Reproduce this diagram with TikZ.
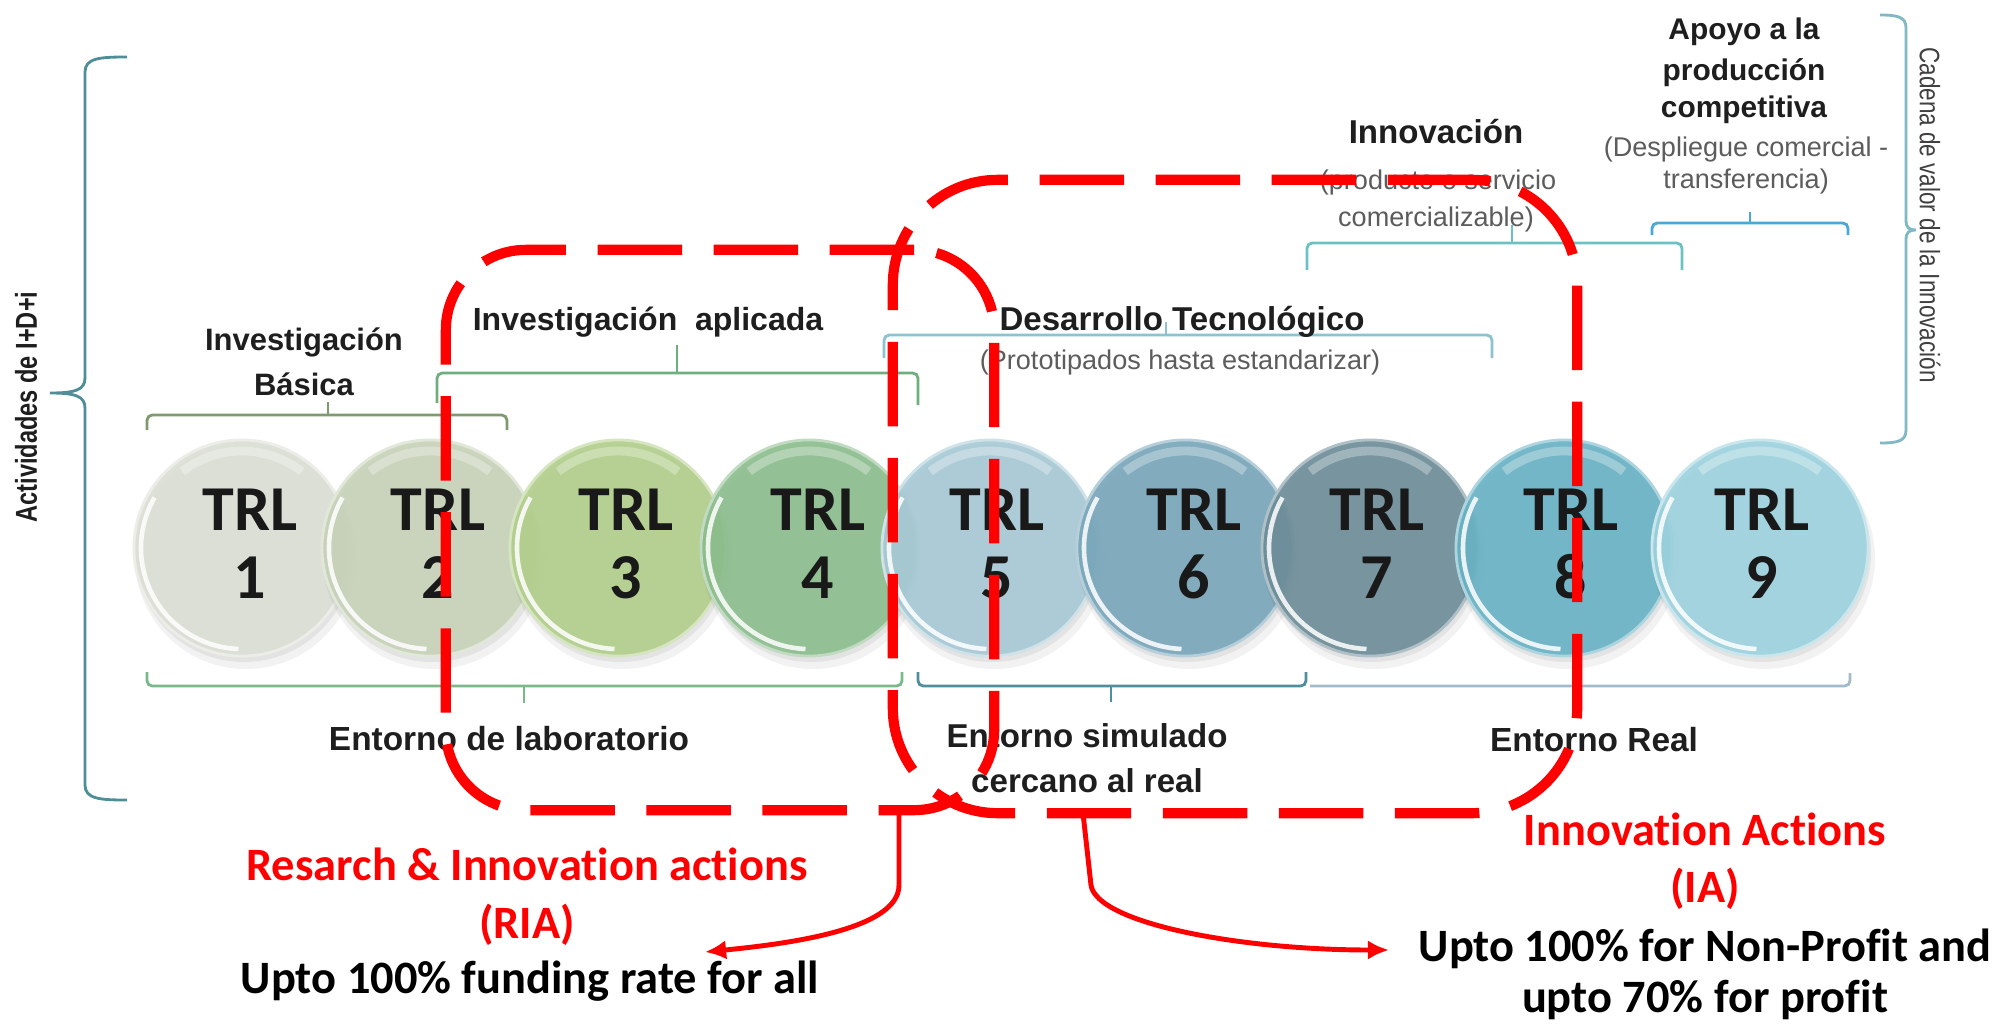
\documentclass[tikz,border=0pt]{standalone}
\usepackage{fontspec}
\setmainfont{Liberation Sans}
\newfontfamily\calibri[Ligatures=NoCommon]{Carlito}
\newfontfamily\narrowsans[FakeStretch=0.8]{Liberation Sans}
\newfontfamily\narrowbold[FakeStretch=0.78]{Liberation Sans}
\usetikzlibrary{arrows.meta}
\definecolor{c1}{HTML}{DCDFD5}
\definecolor{c2}{HTML}{C8D3BA}
\definecolor{c3}{HTML}{B2CF8C}
\definecolor{c4}{HTML}{8DBE8E}
\definecolor{c5}{HTML}{A8CAD6}
\definecolor{c6}{HTML}{7AA8BB}
\definecolor{c7}{HTML}{6E8E9A}
\definecolor{c8}{HTML}{6AB3C5}
\definecolor{c9}{HTML}{9DD2DE}
\definecolor{tdark}{HTML}{1E1E1E}
\definecolor{tgray}{HTML}{5C5C5C}
\definecolor{bBas}{HTML}{7E9A6E}
\definecolor{bApl}{HTML}{6FAF7F}
\definecolor{bDes}{HTML}{8CC3CF}
\definecolor{bInn}{HTML}{6BC1C3}
\definecolor{bApo}{HTML}{4AA8D4}
\definecolor{bLab}{HTML}{7AB88A}
\definecolor{bSim}{HTML}{4F8E9C}
\definecolor{bReal}{HTML}{A3BACB}
\definecolor{bBrace}{HTML}{4E8E99}
\definecolor{redc}{HTML}{FF0000}
\begin{document}
\begin{tikzpicture}[x=0.01cm,y=-0.01cm,
  hdr/.style={font=\bfseries\fontsize{#1}{#1}\selectfont, text=tdark, inner sep=0pt, anchor=base},
  subt/.style={font=\fontsize{#1}{#1}\selectfont, text=tgray, inner sep=0pt, anchor=base},
  rtxt/.style={font=\calibri\bfseries\fontsize{13.2pt}{15pt}\selectfont, text=redc, inner sep=0pt, anchor=base},
  btxt/.style={font=\calibri\bfseries\fontsize{13.2pt}{15pt}\selectfont, text=black, inner sep=0pt, anchor=base},
  trlc/.style={circle, minimum size=2.16cm, inner sep=0pt, fill opacity=0.92},
  trltxt/.style={font=\calibri\bfseries\fontsize{18.2pt}{19pt}\selectfont, text=black!90, inner sep=0pt, anchor=base},
  brk/.style={line width=0.8pt, rounded corners=1.5pt},
  brace/.style={line width=0.8pt, draw=bBrace},
  redbox/.style={draw=redc, line width=2.9pt, dash pattern=on 24pt off 9pt, rectangle, inner sep=0pt, outer sep=0pt},
  redarr/.style={draw=redc, line width=1.4pt, -{Latex[length=6pt,width=5.5pt]}}
]
\useasboundingbox (0,0) rectangle (2000,1024);
\fill[white] (0,0) rectangle (2000,1024);

% ---------- TRL circles ----------
\foreach \i/\cx/\tx/\col in {1/242/250/c1,2/430/438/c2,3/618/626/c3,4/809/818/c4,5/990/997/c5,6/1185/1194/c6,7/1370/1377/c7,8/1564/1571/c8,9/1760/1762/c9}{
  \fill[black, opacity=0.05] (\cx+4,558) circle (111);
  \fill[black, opacity=0.06] (\cx+2,553) circle (109);
  \node[trlc, fill=\col, draw=\col!55!white, line width=0.8pt] (c\i) at (\cx,548) {};
  \draw[white, opacity=0.85, line width=1.3pt] (\cx,548) ++(210:101) arc (210:92:101);
  \draw[white, opacity=0.3, line width=2.5pt] (\cx,548) ++(232:97) arc (232:308:97);
  \node[trltxt] (t\i) at (\tx,530) {TRL};
  \node[trltxt] (n\i) at (\tx,598) {\i};
}

% ---------- braces ----------
\draw[brace] (127,57) .. controls (100,57) and (85,58) .. (85,72) -- (85,378)
  .. controls (85,390) and (75,393) .. (50,393) .. controls (75,393) and (85,396) .. (85,408)
  -- (85,785) .. controls (85,799) and (100,800) .. (127,800);
\draw[brace, draw=bDes!80!bBrace] (1880,15) .. controls (1898,15) and (1906,17) .. (1906,28) -- (1906,220)
  .. controls (1906,228) and (1909,230) .. (1916,230) .. controls (1909,230) and (1906,232) .. (1906,240)
  -- (1906,430) .. controls (1906,441) and (1898,443) .. (1880,443);
\node[rotate=90, font=\narrowbold\bfseries\fontsize{8.6pt}{8.6pt}\selectfont, text=tdark, inner sep=0pt] (actividades) at (26,407) {Actividades de I+D+i};
\node[rotate=-90, font=\narrowsans\fontsize{8pt}{8pt}\selectfont, text=tdark!85, inner sep=0pt] (cadena) at (1930,215) {Cadena de valor de la Innovación};

% ---------- top brackets ----------
\draw[brk, bBas] (147,430) -- (147,415) -- (507,415) -- (507,430);
\draw[brk, bBas] (328,415) -- (328,402);
\draw[brk, bApl] (437,403) -- (437,373) -- (918,373) -- (918,405);
\draw[brk, bApl] (677,373) -- (677,345);
\draw[brk, bDes] (884,358) -- (884,335) -- (1492,335) -- (1492,358);
\draw[brk, bDes] (1166,335) -- (1166,322);
\draw[brk, bInn] (1307,270) -- (1307,243) -- (1682,243) -- (1682,270);
\draw[brk, bInn] (1512,243) -- (1512,225);
\draw[brk, bApo] (1652,235) -- (1652,223) -- (1848,223) -- (1848,235);
\draw[brk, bApo] (1750,223) -- (1750,212);

% ---------- bottom brackets ----------
\draw[brk, bLab] (147,672) -- (147,686) -- (902,686) -- (902,672);
\draw[brk, bLab] (524,686) -- (524,703);
\draw[brk, bSim] (918,672) -- (918,686) -- (1306,686) -- (1306,672);
\draw[brk, bSim] (1111,686) -- (1111,702);
\draw[brk, bReal] (1310,686) -- (1850,686) -- (1850,673);

% ---------- labels ----------
\node[hdr=8.8pt] (basica1) at (304,350) {Investigación};
\node[hdr=8.8pt] (basica2) at (304,395) {Básica};
\node[hdr=9.1pt] (aplicada) at (648,330) {Investigación\ \ aplicada};
\node[hdr=9.4pt] (desarrollo) at (1182,330) {Desarrollo Tecnológico};
\node[subt=7.7pt] (protot) at (1180,369) {(Prototipados hasta estandarizar)};
\node[hdr=9.4pt] (innov) at (1436,143) {Innovación};
\node[subt=7.7pt] (innovsub1) at (1438,189) {(producto o servicio};
\node[subt=7.7pt] (innovsub2) at (1436,226) {comercializable)};
\node[hdr=8.5pt] (apoyo1) at (1744,39) {Apoyo a la};
\node[hdr=8.5pt] (apoyo2) at (1744,80) {producción};
\node[hdr=8.5pt] (apoyo3) at (1744,117) {competitiva};
\node[subt=7.7pt] (apoyosub1) at (1746,156) {(Despliegue comercial -};
\node[subt=7.7pt] (apoyosub2) at (1746,188) {transferencia)};
\node[hdr=9.5pt] (lab) at (509,750) {Entorno de laboratorio};
\node[hdr=9.4pt] (simul1) at (1087,747) {Entorno simulado};
\node[hdr=9.4pt] (simul2) at (1087,792) {cercano al real};
\node[hdr=9.5pt] (real) at (1594,751) {Entorno Real};

% ---------- red boxes ----------
\node[redbox, minimum width=5.48cm, minimum height=5.6cm, rounded corners=0.8cm] (ria) at (720,530) {};
\node[redbox, minimum width=6.84cm, minimum height=6.33cm, rounded corners=1.05cm] (ia) at (1235,496.5) {};

% ---------- red texts ----------
\node[rtxt] (riatitle1) at (527,880) {Resarch \& Innovation actions};
\node[rtxt] (riatitle2) at (527,938) {(RIA)};
\node[btxt] (riafund) at (530,993) {Upto 100\% funding rate for all};
\node[rtxt] (iatitle1) at (1705,845) {Innovation Actions};
\node[rtxt] (iatitle2) at (1705,902) {(IA)};
\node[btxt] (iafund1) at (1705,961) {Upto 100\% for Non-Profit and};
\node[btxt] (iafund2) at (1705,1012) {upto 70\% for profit};

% ---------- connectors ----------
\path (ria.south) ++(179,0) coordinate (riaout);
\coordinate (riatip) at (705,952);
\draw[redarr] (riaout) -- ++(0,75) .. controls +(0,45) and +(80,-8) .. (riatip);
\path (ia.south) ++(-152,0) coordinate (iaout);
\coordinate (iatip) at (1389,950);
\draw[redarr] (iaout) -- ++(8,72) .. controls +(6,38) and +(-150,0) .. (iatip);
\end{tikzpicture}
\end{document}
